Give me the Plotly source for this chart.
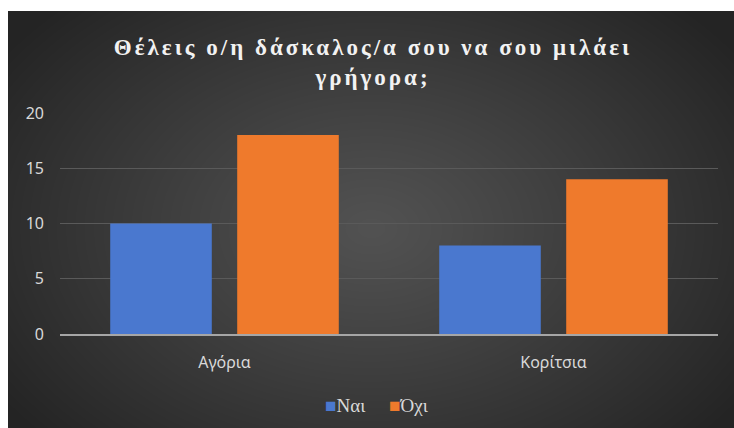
import base64, struct, zlib
import numpy as np
import plotly.graph_objects as go

categories = ["Αγόρια", "Κορίτσια"]
series_names = ["Ναι", "Όχι"]
series_colors = ["#4a78cf", "#ef7a2c"]
nai_values = [10, 8]
oxi_values = [18, 14]
y_ticks = [0, 5, 10, 15, 20]
title_lines = ["Θέλεις ο/η δάσκαλος/α σου να σου μιλάει", "γρήγορα;"]

W, H = 734, 428
ML, MR, MT, MB = 60, 16, 113, 94
PW, PH = W - ML - MR, H - MT - MB
SERIF = "Liberation Serif, DejaVu Serif, serif"


def png_uri(arr):
    h, w, _ = arr.shape
    raw = b"".join(b"\x00" + arr[i].tobytes() for i in range(h))
    def chunk(t, d):
        c = struct.pack(">I", len(d)) + t + d
        return c + struct.pack(">I", zlib.crc32(t + d) & 0xffffffff)
    png = b"\x89PNG\r\n\x1a\n" + chunk(b"IHDR", struct.pack(">IIBBBBB", w, h, 8, 2, 0, 0, 0))
    png += chunk(b"IDAT", zlib.compress(raw, 9)) + chunk(b"IEND", b"")
    return "data:image/png;base64," + base64.b64encode(png).decode()


# radial dark background
bx0, by0 = 8, 11
bw, bh = W - bx0, H - by0
yy, xx = np.mgrid[0:bh, 0:bw]
cx, cy = bw / 2, bh * 0.52
t = np.sqrt(((xx - cx) / (bw * 0.62)) ** 2 + ((yy - cy) / (bh * 0.75)) ** 2)
t = np.clip(t, 0, 1)
v = (82 - (82 - 36) * t ** 1.1).astype(np.uint8)
bg = np.stack([v, v, v], axis=-1)

fig = go.Figure()
fig.add_trace(go.Bar(x=categories, y=nai_values, name=series_names[0],
                     marker=dict(color=series_colors[0], line=dict(width=0))))
fig.add_trace(go.Bar(x=categories, y=oxi_values, name=series_names[1],
                     marker=dict(color=series_colors[1], line=dict(width=0))))

fig.add_layout_image(dict(
    source=png_uri(bg), xref="paper", yref="paper",
    x=(bx0 - ML) / PW, y=1 + (MT - by0) / PH,
    sizex=bw / PW, sizey=bh / PH, sizing="stretch",
    xanchor="left", yanchor="top", layer="below"))

sp = '<span style="letter-spacing:3px">{}</span>'
title_text = "<br>".join(sp.format(s) for s in title_lines)

legend_text = "&nbsp;&nbsp;&nbsp;&nbsp;&nbsp;".join(
    f'<span style="color:{c}">■</span>{n}' for n, c in zip(series_names, series_colors))

fig.add_annotation(text=legend_text, xref="paper", yref="paper",
                   x=(377 - ML) / PW, y=-(405 - MT - PH) / PH,
                   xanchor="center", yanchor="middle", showarrow=False,
                   font=dict(family=SERIF, size=19, color="#d9d9d9"))

fig.update_layout(
    width=W, height=H,
    margin=dict(l=ML, r=MR, t=MT, b=MB),
    paper_bgcolor="white", plot_bgcolor="rgba(0,0,0,0)",
    barmode="group", bargap=0.228, bargroupgap=0.2,
    title=dict(text=title_text,
               x=(373) / W, xanchor="center", y=1 - 55 / H, yanchor="middle",
               font=dict(family=SERIF, size=23, color="#f2f2f2", weight="bold")),
    showlegend=False,
    xaxis=dict(showgrid=False, showline=True, linecolor="#a6a6a6", linewidth=2,
               ticks="", ticklabelstandoff=13,
               tickfont=dict(family="Noto Sans", size=16, color="#d9d9d9")),
    yaxis=dict(range=[0, 20], tickvals=y_ticks, showgrid=True, gridcolor="#5a5a5a",
               gridwidth=1, zeroline=False, showline=False, ticks="",
               ticklabelstandoff=15,
               tickfont=dict(family="Noto Sans", size=16, color="#d9d9d9")),
)

fig.write_html("out.html")
